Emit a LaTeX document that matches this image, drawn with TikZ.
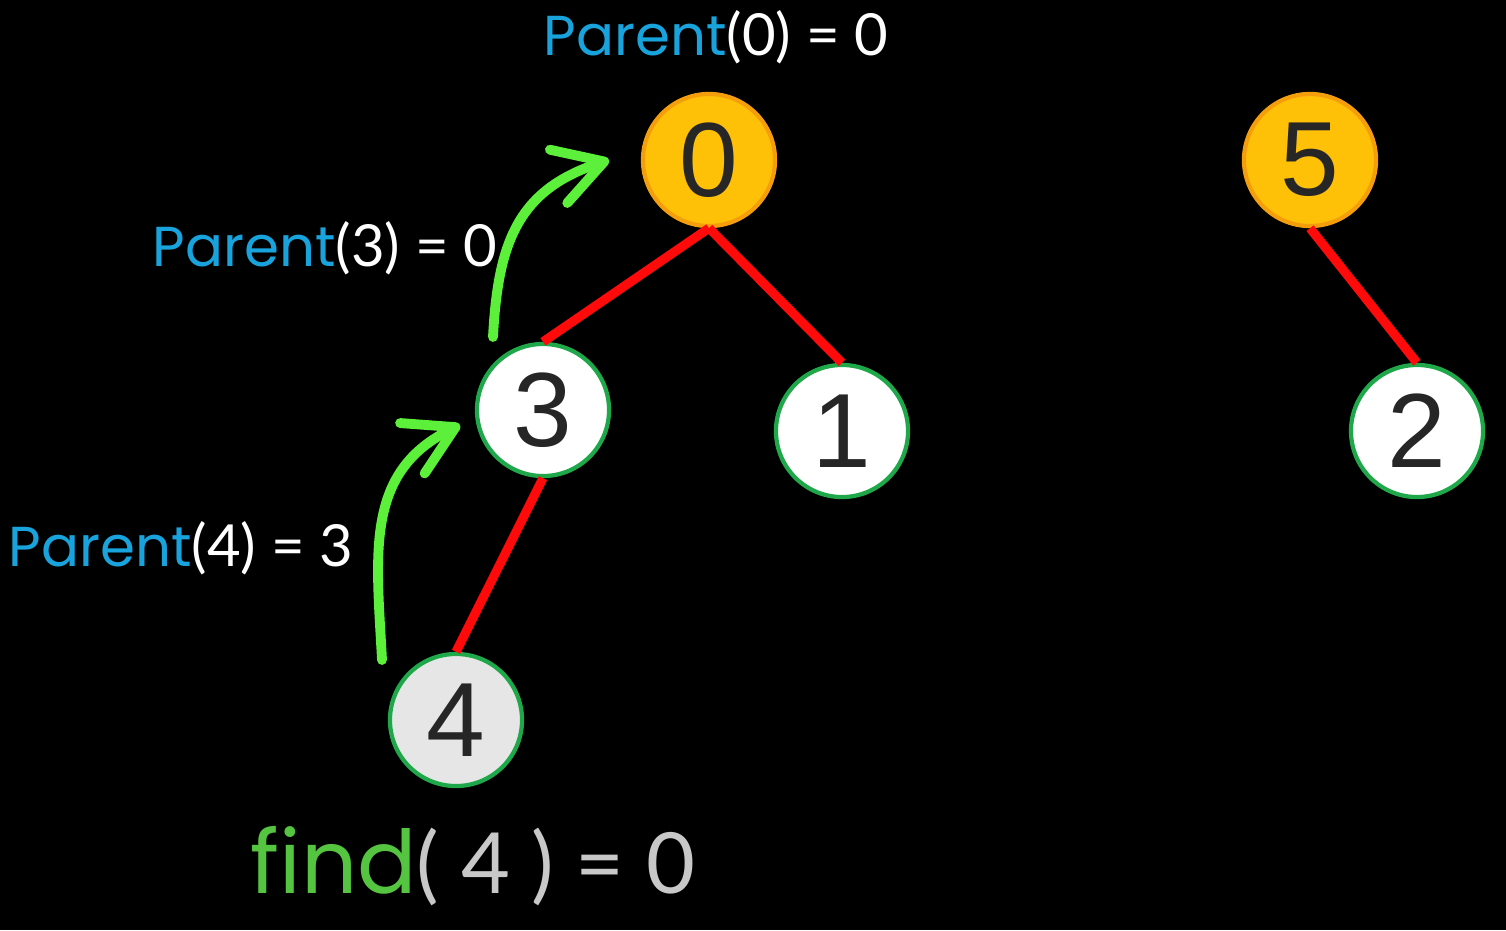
\documentclass[tikz,border=0pt]{standalone}
\usepackage{fontspec}
\setmainfont{Liberation Sans}
\newfontfamily\labelfont{Poppins}
\newfontfamily\argfont{Lato}
\usetikzlibrary{arrows.meta}

\definecolor{rootfill}{HTML}{FFC107}
\definecolor{rootdraw}{HTML}{F59E0B}
\definecolor{kidfill}{HTML}{FFFFFF}
\definecolor{leaffill}{HTML}{E6E6E6}
\definecolor{kiddraw}{HTML}{1FA84A}
\definecolor{edgered}{HTML}{FF0A0A}
\definecolor{hopgreen}{HTML}{5CF03A}
\definecolor{parentblue}{HTML}{19A3DC}
\definecolor{findgreen}{HTML}{55C541}
\definecolor{findgray}{HTML}{C8C8C8}

\tikzset{
  elem/.style={circle, minimum size=1.32cm, inner sep=0pt, line width=1.2pt,
    font=\fontsize{30}{30}\selectfont, text=black!85},
  rootelem/.style={elem, fill=rootfill, draw=rootdraw},
  kidelem/.style={elem, fill=kidfill, draw=kiddraw},
  leafelem/.style={elem, fill=leaffill, draw=kiddraw},
  link/.style={edgered, line width=2.6pt},
  hop/.style={hopgreen, line width=2.8pt, line cap=round,
    -{Straight Barb[length=4.8mm, width=5.6mm, line cap=round, line join=round]}},
  parentlbl/.style={anchor=base west, inner sep=0pt, text=white,
    font=\argfont\fontsize{16.5}{16.5}\selectfont},
}
\newcommand{\parentword}{{\labelfont\fontsize{16}{16}\selectfont\textcolor{parentblue}{Parent}}}

\begin{document}
\begin{tikzpicture}[x=0.01cm, y=-0.01cm]
    % background
    \fill[black] (0,0) rectangle (1506,930);
    \useasboundingbox (0,0) rectangle (1506,930);

    % roots:
    \node[rootelem] (n0) at (709,160) {0};
    \node[rootelem] (n5) at (1310,160) {5};
    % children:
    \node[kidelem] (n3) at (543,410) {3};
    \node[kidelem] (n1) at (842,431) {1};
    \node[kidelem] (n2) at (1417,431) {2};
    \node[leafelem] (n4) at (456,720) {4};

    % tree edges:
    \draw[link] (n0.south) -- (n3.north);
    \draw[link] (n0.south) -- (n1.north);
    \draw[link] (n5.south) -- (n2.north);
    \draw[link] (n3.south) -- (n4.north);

    % find path:
    \coordinate (hopa) at (382,660);
    \coordinate (hopb) at (493,337);
    \draw[hop] (hopa) to[out=93, in=206, looseness=1.1] ([xshift=-0.83cm, yshift=-0.15cm]n3.center);
    \draw[hop] (hopb) to[out=87, in=198, looseness=1.15] ([xshift=-1cm, yshift=0cm]n0.center);

    % labels:
    \node[parentlbl] (lbl0) at (543,55) {\parentword(0) = 0};
    \node[parentlbl] (lbl3) at (152,266) {\parentword(3) = 0};
    \node[parentlbl] (lbl4) at (8,566) {\parentword(4) = 3};
    \node[anchor=base west, inner sep=0pt, text=findgray,
      font=\argfont\fontsize{24}{24}\selectfont] (findlbl) at (250,893)
      {{\labelfont\fontsize{25}{25}\selectfont\textcolor{findgreen}{find}}( 4 ) = 0};
\end{tikzpicture}
\end{document}
